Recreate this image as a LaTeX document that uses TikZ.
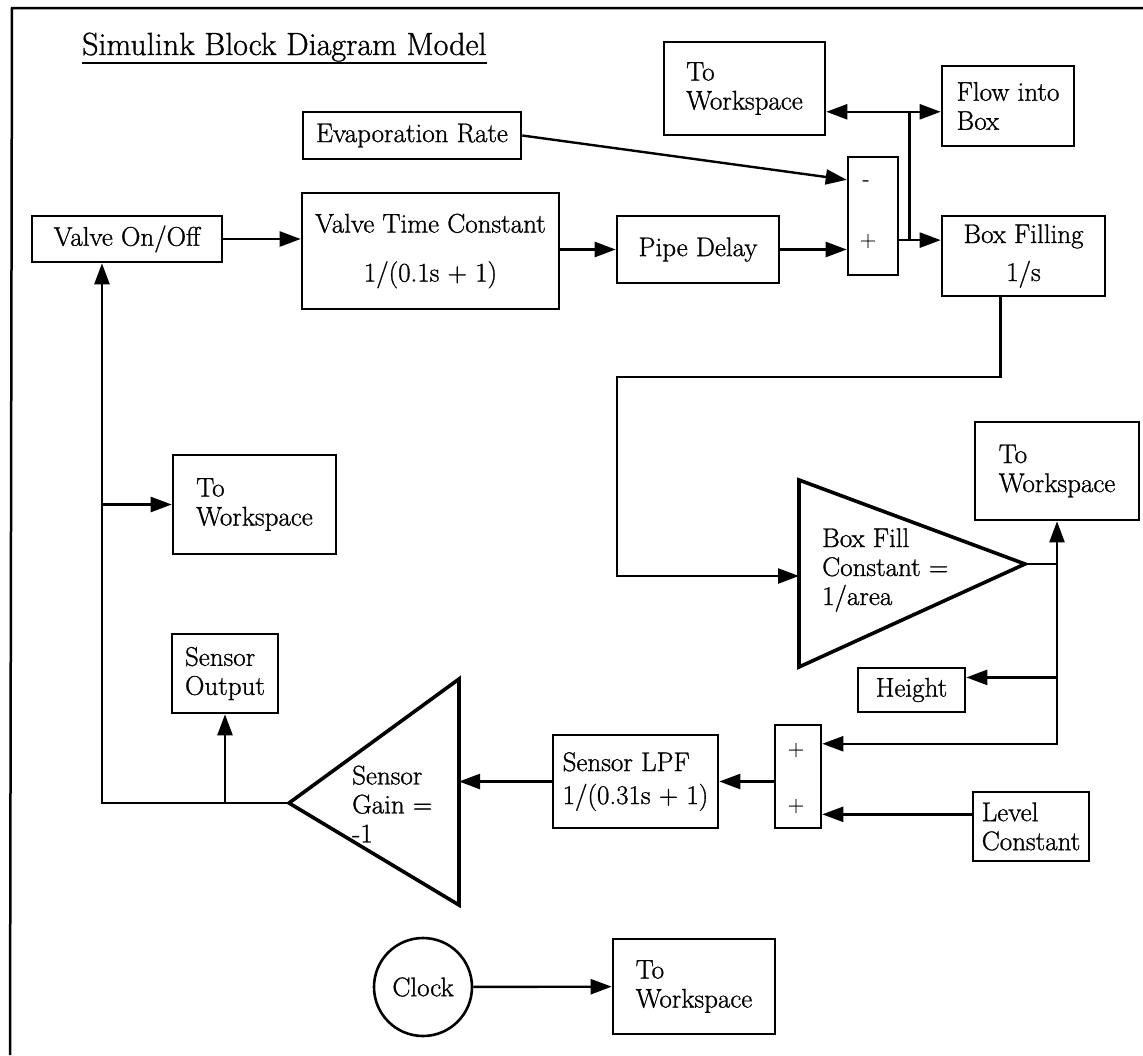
\documentclass[tikz,border=0pt]{standalone}
\usepackage{fontspec}
\setmainfont{Latin Modern Roman}[FakeBold=1]
\usetikzlibrary{arrows.meta,calc}
\begin{document}
\begin{tikzpicture}[x=1pt,y=-1pt,
  blk/.style={draw, line width=2.6pt, rectangle, inner sep=0pt, font=\fontsize{27}{29}\selectfont},
  conn/.style={line width=2.4pt},
  arr/.style={conn, -{Triangle[length=21pt,width=15pt]}},
  tri/.style={line width=3.6pt, line join=miter},
  txt/.style={font=\fontsize{27}{29}\selectfont, inner sep=0pt, align=left},
  sgn/.style={font=\fontsize{22}{24}\selectfont, inner sep=0pt}]
\useasboundingbox (0,0) rectangle (1143,1055);
% frame
\draw[line width=2.5pt] (10,1055) -- (12,8) -- (1143,8);
% title
\node[anchor=base west, inner sep=0pt, font=\fontsize{32}{36}\selectfont] (title) at (82,55) {Simulink Block Diagram Model};
\draw[line width=2pt] ($(title.base west)+(0,8)$) -- ($(title.base east)+(0,8)$);
% blocks
\node[blk, minimum width=190pt, minimum height=46pt] (valve) at (127,239) {Valve On/Off};
\node[blk, minimum width=257pt, minimum height=116pt, align=center] (vtc) at (430.5,251) {Valve Time Constant\\[20pt]1/(0.1s + 1)};
\node[blk, minimum width=218pt, minimum height=47pt] (evap) at (412,135.5) {Evaporation Rate};
\node[blk, minimum width=162pt, minimum height=67pt] (pipe) at (698,249.5) {Pipe Delay};
\node[blk, minimum width=161pt, minimum height=93pt, align=left] (tw1) at (744.5,88.5) {To\\Workspace};
\node[blk, minimum width=132pt, minimum height=80pt, align=left] (flow) at (1008,106) {Flow into\\Box};
\node[blk, minimum width=50pt, minimum height=118pt] (sum1) at (873,216) {};
\node[sgn] (sum1m) at (866,183) {-};
\node[sgn] (sum1p) at (868,241) {+};
\node[blk, minimum width=163pt, minimum height=80pt, align=center] (boxf) at (1023.5,256) {Box Filling\\[9pt]1/s};
\node[blk, minimum width=163pt, minimum height=99pt, align=left] (tw2) at (254.5,504.5) {To\\Workspace};
\node[blk, minimum width=164pt, minimum height=98pt, align=left] (tw3) at (1057,471) {To\\Workspace};
% box fill constant triangle
\draw[tri] (799,480) -- (1025,564) -- (799,667) -- cycle;
\coordinate (t1in) at (799,576);
\coordinate (t1out) at (1025,564);
\node[txt, anchor=west] (t1txt) at (822,570) {Box Fill\\Constant =\\1/area};
\node[blk, minimum width=107pt, minimum height=44pt] (height) at (911.5,690) {Height};
\node[blk, minimum width=46pt, minimum height=103pt] (sum2) at (798,776.5) {};
\node[sgn] (sum2a) at (796,750) {+};
\node[sgn] (sum2b) at (796,806) {+};
\node[blk, minimum width=116pt, minimum height=69pt, align=left] (level) at (1031,826.5) {Level\\Constant};
\node[blk, minimum width=165pt, minimum height=93pt, align=left] (lpf) at (635.5,781.5) {Sensor LPF\\[4pt]1/(0.31s + 1)};
% sensor gain triangle
\draw[tri] (289,803) -- (459,679) -- (459,905) -- cycle;
\coordinate (t2tip) at (289,803);
\coordinate (t2in) at (459,782);
\node[txt, anchor=west] (t2txt) at (352,804) {Sensor\\Gain =\\-1};
\node[blk, minimum width=106pt, minimum height=79pt, align=left] (sensout) at (225,673.5) {Sensor\\Output};
\node[draw, circle, line width=2.6pt, minimum size=98pt, inner sep=0pt, font=\fontsize{27}{29}\selectfont] (clock) at (423,987) {Clock};
\node[blk, minimum width=162pt, minimum height=95pt, align=left] (tw4) at (694,986.5) {To\\Workspace};
% connectors
\draw[arr] (valve.east) -- (valve.east -| vtc.west);
\draw[arr] (pipe.west -| vtc.east) -- (pipe.west);
\draw[arr] (pipe.east) -- (pipe.east -| sum1.west);
\draw[arr] (evap.east) -- ($(sum1.north west)!0.2!(sum1.south west)$);
\coordinate (s1out) at ($(sum1.north east)!0.7!(sum1.south east)$);
\coordinate (j1) at ($(s1out)+(10,0)$);
\coordinate (fl) at ($(flow.north west)!0.57!(flow.south west)$);
\coordinate (j2) at (j1 |- fl);
\draw[arr] (s1out) -- (s1out -| boxf.west);
\draw[conn] (j1) -- (j2);
\draw[arr] (j2) -- (j2 -| tw1.east);
\draw[arr] (j2) -- (fl);
\coordinate (bfout) at ($(boxf.south west)!0.36!(boxf.south east)$);
\draw[arr] (bfout) |- (617,377) |- (t1in);
\coordinate (j3) at (t1out -| tw3.south);
\draw[conn] (t1out) -- (j3);
\draw[arr] (j3) -- (tw3.south);
\coordinate (hin) at ($(height.north east)!0.23!(height.south east)$);
\draw[arr] (j3 |- hin) -- (hin);
\coordinate (s2in1) at ($(sum2.north east)!0.19!(sum2.south east)$);
\draw[arr] (j3) |- (s2in1);
\coordinate (lvout) at ($(level.north west)!0.33!(level.south west)$);
\draw[arr] (lvout) -- (lvout -| sum2.east);
\draw[arr] (lpf.east -| sum2.west) -- (lpf.east);
\draw[arr] (lpf.west) -- (lpf.west -| t2in);
\coordinate (vin) at ($(valve.south west)!0.37!(valve.south east)$);
\draw[arr] (t2tip) -| (vin);
\draw[arr] (tw2.west -| vin) -- (tw2.west);
\draw[arr] (sensout.south |- t2tip) -- (sensout.south);
\draw[arr] (clock) -- (tw4);
\end{tikzpicture}
\end{document}
